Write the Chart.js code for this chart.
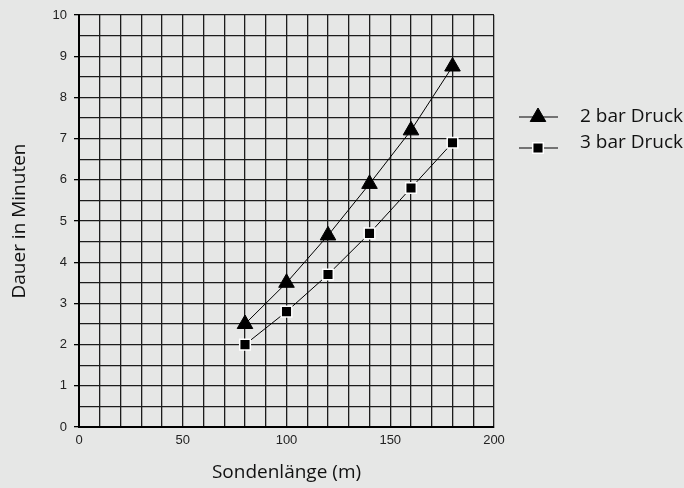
<!DOCTYPE html>
<html>
<head>
<meta charset="utf-8">
<script src="https://cdn.jsdelivr.net/npm/chart.js@4"></script>
<style>
  html, body { margin: 0; padding: 0; background: #e6e7e6; }
  #wrap { width: 684px; height: 488px; position: relative; }
</style>
</head>
<body>
<div id="wrap"><canvas id="mycanvas"></canvas></div>
<script>
// Sondenlänge (m)
var laenge = [80, 100, 120, 140, 160, 180];
// Dauer in Minuten
var druck2 = [2.5, 3.5, 4.65, 5.9, 7.2, 8.75];
var druck3 = [2.0, 2.8, 3.7, 4.7, 5.8, 6.9];
var serienNamen = ["2 bar Druck", "3 bar Druck"];
var xTicks = [0, 50, 100, 150, 200];
var yTicks = [0, 1, 2, 3, 4, 5, 6, 7, 8, 9, 10];

function punkte(ys) {
	var out = [];
	for (var i in laenge) {
		out.push({x: laenge[i], y: ys[i]});
	}
	return out;
}

// draws the legend on the right: short line with the marker on it
var legendePlugin = {
	id: 'legende',
	afterDraw: function(chart) {
		var ctx = chart.ctx;
		var x0 = chart.chartArea.right + 25;
		var rows = [117, 148];
		var textRows = [122, 147.5];
		ctx.save();
		chart.data.datasets.forEach(function(ds, i) {
			var y = rows[i];
			ctx.strokeStyle = '#000';
			ctx.lineWidth = 1.2;
			ctx.beginPath();
			ctx.moveTo(x0, y);
			ctx.lineTo(x0 + 39, y);
			ctx.stroke();
			ctx.fillStyle = '#000';
			ctx.strokeStyle = ds.pointBorderColor;
			ctx.lineWidth = ds.pointBorderWidth;
			Chart.helpers.drawPoint(ctx, {pointStyle: ds.pointStyle, radius: ds.pointRadius, borderWidth: ds.pointBorderWidth}, x0 + 19, y);
			ctx.fillStyle = '#111';
			ctx.font = '19px "Open Sans"';
			ctx.textBaseline = 'alphabetic';
			ctx.fillText(ds.label, x0 + 61, textRows[i]);
		});
		ctx.restore();
	}
};

var ctx = document.getElementById('mycanvas');
var graph = new Chart(ctx, {
	type: 'line',
	data: {
		datasets: [
			{
				label: serienNamen[0],
				data: punkte(druck2),
				borderColor: '#000',
				borderWidth: 1,
				pointStyle: 'triangle',
				pointRadius: 9,
				pointBackgroundColor: '#000',
				pointBorderColor: '#000',
				pointBorderWidth: 1
			},
			{
				label: serienNamen[1],
				data: punkte(druck3),
				borderColor: '#000',
				borderWidth: 1,
				pointStyle: 'rect',
				pointRadius: 7.5,
				pointBackgroundColor: '#000',
				pointBorderColor: '#fff',
				pointBorderWidth: 1.5
			}
		]
	},
	options: {
		responsive: true,
		maintainAspectRatio: false,
		animation: false,
		layout: { padding: { top: 15, right: 190, left: 0, bottom: 0 } },
		plugins: {
			legend: { display: false },
			tooltip: { enabled: false }
		},
		scales: {
			x: {
				type: 'linear',
				min: 0,
				max: 200,
				afterFit: function(s) { s.height = 61; },
				ticks: {
					stepSize: 10,
					autoSkip: false,
					maxRotation: 0,
					padding: 6,
					color: '#222',
					font: { family: '"Liberation Sans", Arial', size: 13 },
					callback: function(v) { return xTicks.indexOf(v) >= 0 ? v : ''; }
				},
				grid: { color: '#1c1c1c', lineWidth: 1.3, drawTicks: false },
				border: { color: '#000', width: 2 },
				title: {
					display: true,
					text: 'Sondenlänge (m)',
					color: '#111',
					font: { family: '"Open Sans"', size: 19 },
					padding: { top: 0, bottom: 4 }
				}
			},
			y: {
				min: 0,
				max: 10,
				afterFit: function(s) { s.width = 79; },
				ticks: {
					stepSize: 0.5,
					autoSkip: false,
					padding: 7,
					color: '#222',
					font: { family: '"Liberation Sans", Arial', size: 13 },
					callback: function(v) { return yTicks.indexOf(v) >= 0 ? v : ''; }
				},
				grid: {
					color: '#1c1c1c',
					lineWidth: 1.3,
					tickLength: 5,
					tickColor: function(c) { return yTicks.indexOf(c.tick.value) >= 0 ? '#000' : 'rgba(0,0,0,0)'; }
				},
				border: { color: '#000', width: 2 },
				title: {
					display: true,
					text: 'Dauer in Minuten',
					color: '#111',
					font: { family: '"Open Sans"', size: 19 },
					padding: { top: 8, bottom: 0 }
				}
			}
		}
	},
	plugins: [legendePlugin]
});
</script>
</body>
</html>
